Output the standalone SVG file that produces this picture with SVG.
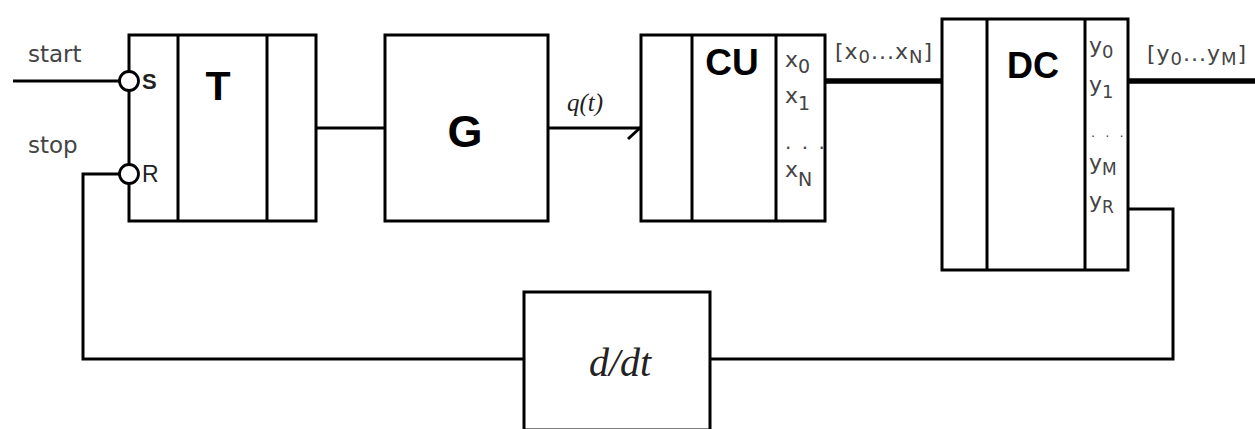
<svg xmlns="http://www.w3.org/2000/svg" width="1255" height="429" viewBox="0 0 1255 429">
<style>
.box{fill:#fff;stroke:#000;stroke-width:3}
.div{stroke:#000;stroke-width:3;fill:none}
.wire{stroke:#000;stroke-width:3;fill:none}
.bus{stroke:#000;stroke-width:5.5;fill:none}
.pin{fill:#fff;stroke:#000;stroke-width:2.8}
.title{font-family:"Liberation Sans",Arial,sans-serif;font-weight:bold;fill:#000;text-anchor:middle}
.lbl{font-family:"DejaVu Sans",sans-serif;fill:#444}
.ital{font-family:"Liberation Serif","Times New Roman",serif;font-style:italic;fill:#222}
</style>
<g id="connectors">
<line class="wire" x1="13" y1="81" x2="119" y2="81"/>
<polyline class="wire" points="119,174 83,174 83,359 524,359"/>
<polyline class="wire" points="710,359 1173,359 1173,209 1128,209"/>
<line class="wire" x1="316" y1="128" x2="385" y2="128"/>
<line class="wire" x1="548" y1="128" x2="641" y2="128"/>
<line class="wire" x1="628" y1="139" x2="654" y2="115"/>
<line class="bus" x1="825" y1="81" x2="942" y2="81"/>
<line class="bus" x1="1128" y1="81" x2="1255" y2="81"/>
<text class="ital" x="567" y="111" font-size="25">q(t)</text>
<text class="lbl" x="835" y="59" font-size="22" letter-spacing="1">[x<tspan font-size="18" dy="4">0</tspan><tspan dy="-4">...x</tspan><tspan font-size="18" dy="4">N</tspan><tspan dy="-4">]</tspan></text>
<text class="lbl" x="1147" y="61" font-size="22" letter-spacing="1">[y<tspan font-size="18" dy="4">0</tspan><tspan dy="-4">...y</tspan><tspan font-size="18" dy="4">M</tspan><tspan dy="-4">]</tspan></text>
<text class="lbl" x="28" y="62" font-size="23">start</text>
<text class="lbl" x="28" y="153" font-size="23">stop</text>
</g>
<g id="T">
<rect class="box" x="129" y="35" width="187" height="186"/>
<line class="div" x1="178" y1="35" x2="178" y2="221"/>
<line class="div" x1="267" y1="35" x2="267" y2="221"/>
<circle class="pin" cx="129" cy="81" r="9.5"/>
<circle class="pin" cx="129" cy="174" r="9.5"/>
<text x="142" y="89" font-size="22" font-family="Liberation Sans,sans-serif" font-weight="bold" fill="#222">S</text>
<text x="142" y="182" font-size="23" font-family="Liberation Sans,sans-serif" fill="#222">R</text>
<text class="title" x="218" y="100" font-size="41">T</text>
</g>
<g id="G">
<rect class="box" x="385" y="35" width="163" height="186"/>
<text class="title" x="465" y="147" font-size="45">G</text>
</g>
<g id="CU">
<rect class="box" x="641" y="35" width="184" height="186"/>
<line class="div" x1="692" y1="35" x2="692" y2="221"/>
<line class="div" x1="776" y1="35" x2="776" y2="221"/>
<text class="title" x="732" y="75" font-size="37">CU</text>
<text class="lbl" x="785" y="67" font-size="22">x<tspan font-size="19" dy="6">0</tspan></text>
<text class="lbl" x="785" y="103" font-size="22">x<tspan font-size="19" dy="7">1</tspan></text>
<text class="lbl" x="785" y="149" font-size="20" letter-spacing="2">. . .</text>
<text class="lbl" x="785" y="177" font-size="22">x<tspan font-size="19" dy="9">N</tspan></text>
</g>
<g id="DC">
<rect class="box" x="942" y="19" width="186" height="251"/>
<line class="div" x1="987" y1="19" x2="987" y2="270"/>
<line class="div" x1="1085" y1="19" x2="1085" y2="270"/>
<text class="title" x="1033" y="78" font-size="36">DC</text>
<text class="lbl" x="1089" y="53" font-size="22">y<tspan font-size="18" dy="5">0</tspan></text>
<text class="lbl" x="1089" y="92" font-size="22">y<tspan font-size="18" dy="6">1</tspan></text>
<text class="lbl" x="1091" y="137" font-size="13" letter-spacing="3">. . .</text>
<text class="lbl" x="1089" y="170" font-size="22">y<tspan font-size="17" dy="5">M</tspan></text>
<text class="lbl" x="1089" y="208" font-size="22">y<tspan font-size="17" dy="5">R</tspan></text>
</g>
<g id="ddt">
<rect class="box" x="524" y="292" width="186" height="138"/>
<text class="ital" x="620" y="376" font-size="40" text-anchor="middle">d/dt</text>
</g>
</svg>
